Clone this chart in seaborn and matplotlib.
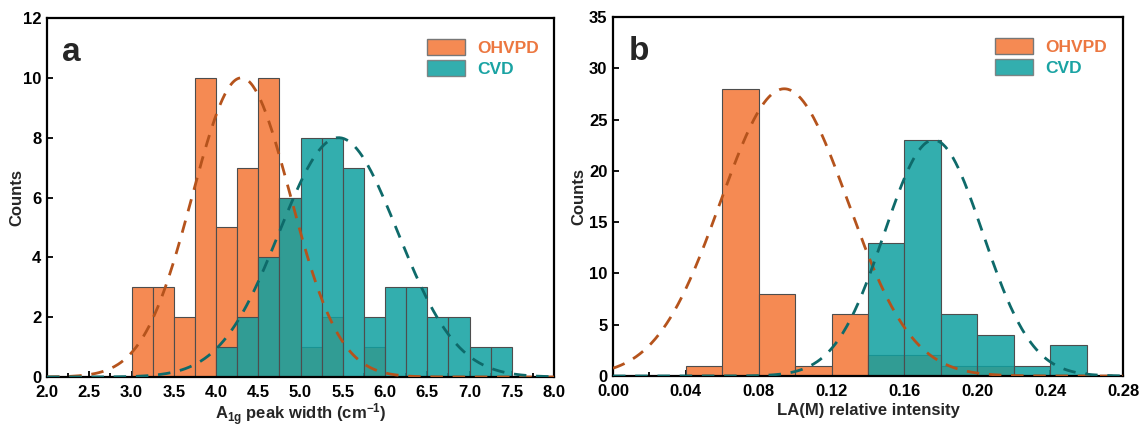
import numpy as np
import pandas as pd
import matplotlib
matplotlib.use("Agg")
import matplotlib.pyplot as plt
from matplotlib.patches import Patch
from matplotlib.ticker import MultipleLocator, FormatStrFormatter
import seaborn as sns

# ---------------- data ----------------
# Panel a: A1g peak width histogram, bin width 0.25 cm^-1 (left edges)
a_bin_left = [3.0, 3.25, 3.5, 3.75, 4.0, 4.25, 4.5, 4.75, 5.0, 5.25, 5.5, 5.75,
              6.0, 6.25, 6.5, 6.75, 7.0, 7.25]
a_ohvpd = [3, 3, 2, 10, 5, 7, 10, 6, 1, 2, 0, 1, 0, 0, 0, 0, 0, 0]
a_cvd = [0, 0, 0, 0, 1, 2, 4, 6, 8, 8, 7, 2, 3, 3, 2, 2, 1, 1]
a_bin_width = 0.25
# Gaussian fit parameters (amplitude, centre, sigma)
a_fit_ohvpd = (10.0, 4.30, 0.58)
a_fit_cvd = (8.0, 5.45, 0.70)

# Panel b: LA(M) relative intensity histogram, bin width 0.02
b_bin_left = [0.04, 0.06, 0.08, 0.10, 0.12, 0.14, 0.16, 0.18, 0.20, 0.22, 0.24]
b_ohvpd = [1, 28, 8, 1, 6, 2, 2, 1, 1, 0, 0]
b_cvd = [0, 0, 0, 0, 0, 13, 23, 6, 4, 1, 3]
b_bin_width = 0.02
b_fit_ohvpd = (28.0, 0.094, 0.035)
b_fit_cvd = (23.0, 0.176, 0.027)

series_names = ["OHVPD", "CVD"]

# ---------------- style ----------------
sns.set_theme(style="ticks")
plt.rcParams["font.family"] = ["Liberation Sans", "DejaVu Sans"]
plt.rcParams["font.weight"] = "bold"
plt.rcParams["mathtext.fontset"] = "custom"
plt.rcParams["mathtext.rm"] = "Liberation Sans:bold"
plt.rcParams["mathtext.bf"] = "Liberation Sans:bold"
plt.rcParams["mathtext.default"] = "bf"

C_OR = "#F58A53"
C_TE = "#0FA0A0"
TE_ALPHA = 0.85
C_OR_LINE = "#B5531C"
C_TE_LINE = "#0E6A6A"
EDGE = "#4d4d4d"
C_OR_TXT = "#EC7740"
C_TE_TXT = "#1AA3A3"

fig = plt.figure(figsize=(11.43, 4.30), dpi=100)
ax_a = fig.add_axes([47 / 1143, 53 / 430, 507 / 1143, 359 / 430])
ax_b = fig.add_axes([613 / 1143, 54 / 430, 510 / 1143, 359 / 430])


def gauss(x, p):
    amp, mu, sig = p
    return amp * np.exp(-(x - mu) ** 2 / (2 * sig ** 2))


def draw_panel(ax, left, w, ohvpd, cvd, fit_o, fit_c, xlim, ylim, ylabpad):
    edges = list(left) + [left[-1] + w]
    centers = [l + w / 2 for l in left]
    df = pd.DataFrame({"x": centers, "o": ohvpd, "c": cvd})
    sns.histplot(data=df, x="x", weights="o", bins=edges, ax=ax, color=C_OR,
                 alpha=1.0, edgecolor=EDGE, linewidth=0.8, stat="count")
    sns.histplot(data=df, x="x", weights="c", bins=edges, ax=ax, color=C_TE,
                 alpha=TE_ALPHA, edgecolor=EDGE, linewidth=0.8, stat="count")
    xs = np.linspace(xlim[0], xlim[1], 400)
    sns.lineplot(x=xs, y=gauss(xs, fit_o), ax=ax, color=C_OR_LINE, lw=2.0,
                 dashes=False, zorder=5).lines[-1].set_dashes((4.5, 3.5))
    sns.lineplot(x=xs, y=gauss(xs, fit_c), ax=ax, color=C_TE_LINE, lw=2.0,
                 dashes=False, zorder=5).lines[-1].set_dashes((4.5, 3.5))
    ax.set_xlim(*xlim)
    ax.set_ylim(*ylim)
    for s in ax.spines.values():
        s.set_linewidth(1.6)
        s.set_color("black")
    ax.tick_params(axis="both", which="both", direction="in", width=1.3,
                   labelsize=12, colors="black")
    ax.tick_params(axis="y", pad=4)
    ax.tick_params(axis="x", which="both", pad=6)
    ax.tick_params(axis="both", which="major", length=4)
    ax.tick_params(axis="x", which="minor", length=3)
    ax.set_ylabel("Counts", fontsize=12, fontweight="bold", labelpad=ylabpad)
    handles = [Patch(facecolor=C_OR, edgecolor="#777777", linewidth=1.0),
               Patch(facecolor=C_TE, edgecolor="#777777", linewidth=1.0,
                     alpha=TE_ALPHA)]
    leg = ax.legend(handles, series_names, loc="upper left",
                    bbox_to_anchor=(0.735, 0.96), frameon=False,
                    prop={"weight": "bold", "size": 12.5}, handlelength=2.2,
                    handleheight=1.0, labelspacing=0.25, handletextpad=0.7,
                    borderaxespad=0)
    for t, c in zip(leg.get_texts(), [C_OR_TXT, C_TE_TXT]):
        t.set_color(c)


draw_panel(ax_a, a_bin_left, a_bin_width, a_ohvpd, a_cvd, a_fit_ohvpd,
           a_fit_cvd, (2.0, 8.0), (0, 12), -1)
ax_a.xaxis.set_major_locator(MultipleLocator(0.5))
ax_a.xaxis.set_minor_locator(MultipleLocator(0.25))
ax_a.xaxis.set_major_formatter(FormatStrFormatter("%.1f"))
ax_a.yaxis.set_major_locator(MultipleLocator(2))
ax_a.set_xlabel(r"A$_{1g}$ peak width (cm$^{-1}$)", fontsize=12,
                fontweight="bold", labelpad=0.5)
ax_a.text(0.03, 0.905, "a", transform=ax_a.transAxes, fontsize=24,
          fontweight="bold", ha="left", va="center")

draw_panel(ax_b, b_bin_left, b_bin_width, b_ohvpd, b_cvd, b_fit_ohvpd,
           b_fit_cvd, (0.0, 0.28), (0, 35), 2)
ax_b.xaxis.set_major_locator(MultipleLocator(0.04))
ax_b.xaxis.set_minor_locator(MultipleLocator(0.02))
ax_b.xaxis.set_major_formatter(FormatStrFormatter("%.2f"))
ax_b.yaxis.set_major_locator(MultipleLocator(5))
ax_b.set_xlabel("LA(M) relative intensity", fontsize=12, fontweight="bold",
                labelpad=3)
ax_b.text(0.03, 0.905, "b", transform=ax_b.transAxes, fontsize=24,
          fontweight="bold", ha="left", va="center")

for ax in (ax_a, ax_b):
    for lab in ax.get_xticklabels() + ax.get_yticklabels():
        lab.set_fontweight("bold")

fig.savefig("out.png", dpi=100)
